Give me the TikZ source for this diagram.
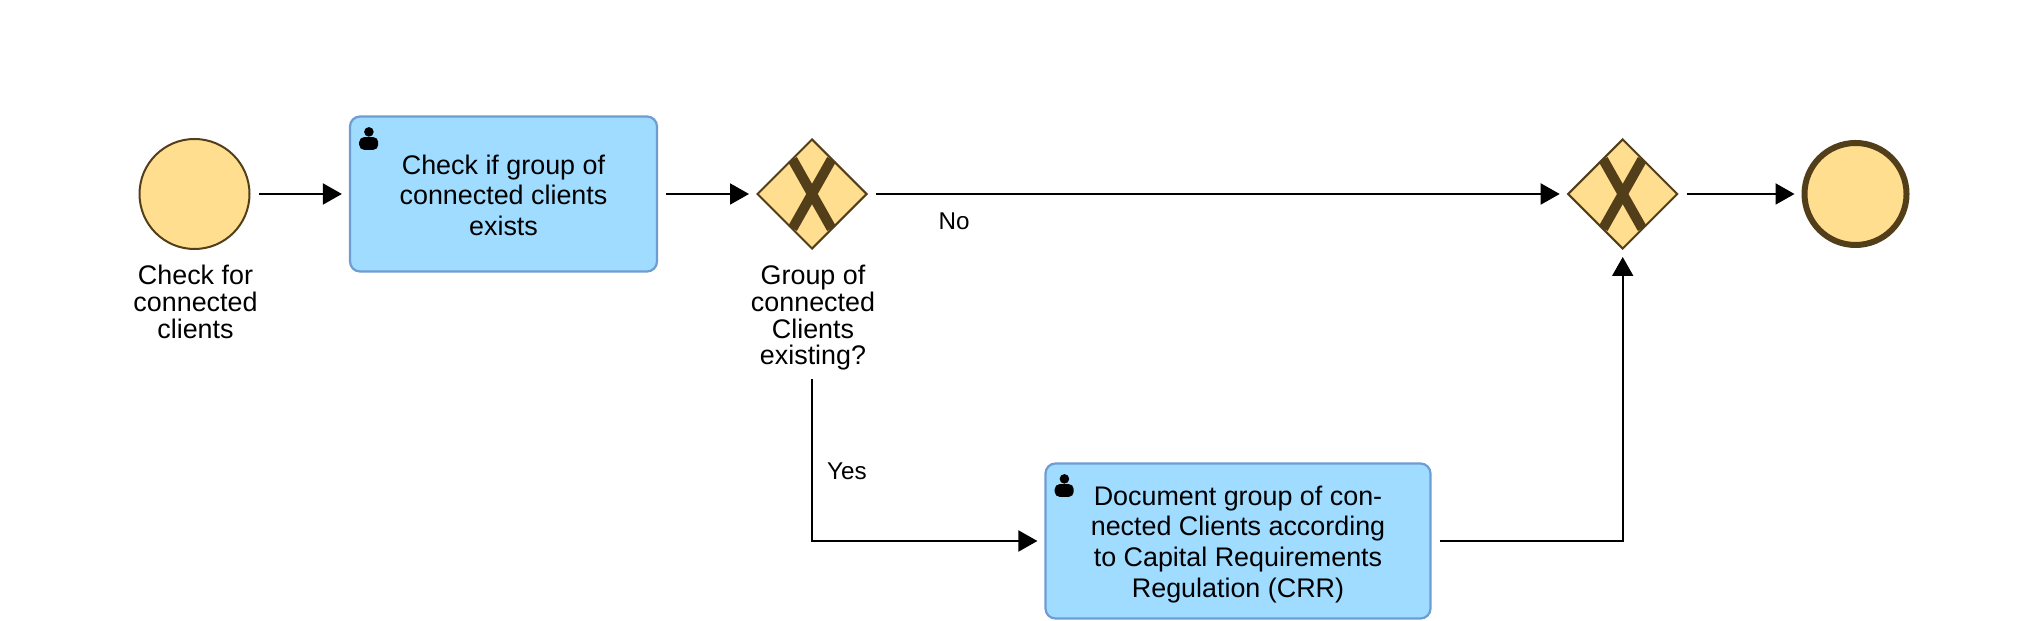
\documentclass[tikz,border=0pt]{standalone}
\usepackage{fontspec}
\setmainfont{Liberation Sans}
\usetikzlibrary{calc,arrows.meta,shapes.geometric}
\definecolor{evfill}{HTML}{FFDE8F}
\definecolor{evline}{HTML}{533E1A}
\definecolor{taskfill}{HTML}{9FDCFF}
\definecolor{taskline}{HTML}{6D9DD2}
\tikzset{
	evstart/.style={circle, draw=evline, fill=evfill, line width=0.02cm, minimum size=1.1cm, inner sep=0},
	evend/.style={circle, draw=evline, fill=evfill, line width=0.06cm, minimum size=1.02cm, inner sep=0},
	gateway/.style={diamond, draw=evline, fill=evfill, line width=0.02cm, minimum width=1.1cm, minimum height=1.1cm, inner sep=0},
	gatex/.style={draw=evline, line width=0.1cm},
	usertask/.style={rectangle, rounded corners=0.1cm, draw=taskline, fill=taskfill, line width=0.022cm, inner sep=0, align=center, font=\fontsize{7.65pt}{8.7pt}\selectfont},
	caption/.style={inner sep=0, align=center, font=\fontsize{7.65pt}{7.6pt}\selectfont},
	flowlabel/.style={inner sep=0, font=\fontsize{6.9pt}{7.6pt}\selectfont},
	flow/.style={line width=0.02cm, -{Triangle[length=0.19cm,width=0.21cm]}, shorten <=0.08cm, shorten >=0.07cm},
}
\def\gatecross(#1){
	\draw[gatex] ($(#1)+(-0.195,0.345)$) -- ($(#1)+(0.195,-0.345)$);
	\draw[gatex] ($(#1)+(0.195,0.345)$) -- ($(#1)+(-0.195,-0.345)$);
}
\def\taskuser(#1){
	\fill[black] ($(#1.north west)+(0.2,-0.165)$) circle (0.048);
	\fill[black, rounded corners=0.05cm] ($(#1.north west)+(0.103,-0.217)$) rectangle ($(#1.north west)+(0.293,-0.345)$);
}

\begin{document}
\begin{tikzpicture}
	%%%%% START %%%%%
	\useasboundingbox (0, 0) rectangle (20.27, 6.21);

	\node[evstart] (startev) at (1.945, 4.27) {};
	\node[caption] (startlab) at (1.955, 3.19) {Check for\\connected\\clients};

	\node[usertask, minimum width=3.07cm, minimum height=1.55cm] (checktask) at (5.035, 4.27) {\rule{0pt}{6.3pt}Check if group of\\connected clients\\exists};
	\taskuser(checktask)

	\node[gateway] (splitgate) at (8.12, 4.27) {};
	\gatecross(splitgate)
	\node[caption] (splitlab) at (8.13, 3.03) {Group of\\connected\\Clients\\existing?};

	\node[gateway] (joingate) at (16.227, 4.27) {};
	\gatecross(joingate)

	\node[evend] (endev) at (18.555, 4.27) {};

	\node[usertask, minimum width=3.85cm, minimum height=1.55cm] (doctask) at (12.38, 0.8) {\rule{0pt}{7.4pt}Document group of con-\\nected Clients according\\to Capital Requirements\\Regulation (CRR)};
	\taskuser(doctask)

	\node[flowlabel] (nolab) at (9.54, 4.0) {No};
	\node[flowlabel] (yeslab) at (8.47, 1.5) {Yes};

	\draw[flow] (startev) -- (checktask);
	\draw[flow] (checktask) -- (splitgate);
	\draw[flow] (splitgate) -- (joingate);
	\draw[flow] (joingate) -- (endev);
	\draw[flow] (splitlab.south -| splitgate) |- (doctask.west);
	\draw[flow] (doctask.east) -| (joingate.south);
	%%%%% END %%%%%
\end{tikzpicture}
\end{document}
